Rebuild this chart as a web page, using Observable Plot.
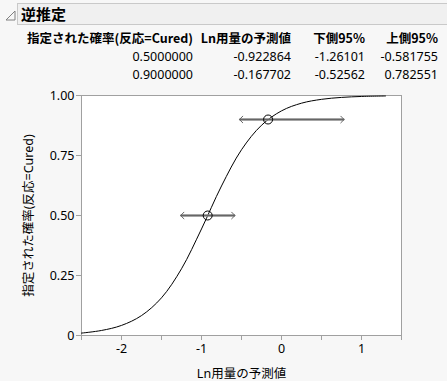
<!DOCTYPE html>
<html><head><meta charset="utf-8">
<script src="https://cdn.jsdelivr.net/npm/d3@7"></script>
<script src="https://cdn.jsdelivr.net/npm/@observablehq/plot@0.6"></script>
<style>
html,body{margin:0;padding:0;background:#f7f7f7;width:447px;height:381px;overflow:hidden;font-family:"Noto Sans","Noto Sans CJK JP",sans-serif;}
#hdr{position:absolute;left:17px;top:3px;width:440px;height:22px;background:#f0f0f0;border:1px solid #c9c9c9;box-sizing:border-box;}
#hdr span{position:absolute;left:3px;top:-1px;font-family:"Noto Sans CJK JP";font-weight:bold;font-size:15px;color:#000;}
#tri{position:absolute;left:5px;top:10px;}
#tbl{position:absolute;left:0;top:28px;border-collapse:collapse;font-size:12.5px;color:#000;}
#tbl td,#tbl th{padding:0;height:18.5px;text-align:right;white-space:nowrap;}
#tbl th{font-weight:bold;font-family:"Noto Sans CJK JP";}
#chart{position:absolute;left:0;top:80px;}
</style></head><body>
<svg id="tri" width="12" height="12"><path d="M1,10 L10,10 L10,1 Z" fill="none" stroke="#808080"/></svg>
<div id="hdr"><span>逆推定</span></div>
<table id="tbl"></table>
<div id="chart"></div>
<script>
// Table values
const colHeaders = ["指定された確率(反応=Cured)", "Ln用量の予測値", "下側95%", "上側95%"];
const probText = ["0.5000000", "0.9000000"];
const predText = ["-0.922864", "-0.167702"];
const lowText = ["-1.26101", "-0.52562"];
const upText = ["-0.581755", "0.782551"];

// Inverse prediction values
const prob = [0.5, 0.9];
const pred = [-0.922864, -0.167702];
const lower = [-1.26101, -0.52562];
const upper = [-0.581755, 0.782551];

// Fitted curve
const curveX = [-2.5, -2.25, -2.0, -1.75, -1.5, -1.25, -1.0, -0.75, -0.5, -0.25, 0.0, 0.25, 0.5, 0.75, 1.0, 1.3];
const curveP = [0.010, 0.021, 0.042, 0.083, 0.157, 0.278, 0.444, 0.623, 0.774, 0.876, 0.936, 0.968, 0.984, 0.992, 0.996, 0.998];

// Axes ticks
const xTicks = [-2.5, -2, -1.5, -1, -0.5, 0, 0.5, 1, 1.5];
const xLabels = [-2, -1, 0, 1];
const yTicks = [0, 0.25, 0.5, 0.75, 1];
const yLabels = ["0", "0.25", "0.50", "0.75", "1.00"];

// Build table
const widths = [193, 98, 74, 73];
const tbl = document.getElementById("tbl");
let html = "<tr>" + colHeaders.map((h, i) => `<th style="width:${widths[i]}px">${h}</th>`).join("") + "</tr>";
for (let r = 0; r < probText.length; r++) {
  html += "<tr>" + [probText[r], predText[r], lowText[r], upText[r]].map((v, i) => `<td style="width:${widths[i]}px">${v}</td>`).join("") + "</tr>";
}
tbl.innerHTML = html;

const curve = curveX.map((x, i) => ({x, p: curveP[i]}));
const inv = prob.map((p, i) => ({p, pred: pred[i], lo: lower[i], hi: upper[i]}));

const chart = Plot.plot({
  width: 447,
  height: 301,
  marginLeft: 81,
  marginRight: 46,
  marginTop: 15,
  marginBottom: 46,
  style: {fontFamily: "'Noto Sans','Noto Sans CJK JP',sans-serif", fontSize: "12.5px", background: "transparent", color: "#000", overflow: "visible"},
  x: {domain: [-2.5, 1.5]},
  y: {domain: [0, 1]},
  marks: [
    Plot.frame({fill: "white", stroke: "#a0a0a0"}),
    Plot.axisX({ticks: xTicks, tickSize: 5, tickFormat: () => "", stroke: "#a0a0a0", label: null}),
    Plot.axisX({ticks: xLabels, tickSize: 0, tickPadding: 9, tickFormat: d => String(d), fill: "#000", label: null}),
    Plot.axisY({ticks: yTicks, tickSize: 5, tickPadding: 2, tickFormat: d => yLabels[yTicks.indexOf(d)], stroke: "#a0a0a0", fill: "#000", label: null}),
    Plot.text(["Ln用量の予測値"], {frameAnchor: "bottom", dy: 42, fontSize: 12.5, fill: "#000"}),
    Plot.text(["指定された確率(反応=Cured)"], {frameAnchor: "left", textAnchor: "middle", dx: -53, rotate: -90, fontSize: 12.5, fill: "#000"}),
    Plot.line(curve, {x: "x", y: "p", stroke: "#000", strokeWidth: 1, curve: "catmull-rom"}),
    Plot.link(inv, {x1: "lo", x2: "hi", y1: "p", y2: "p", stroke: "#888888", strokeWidth: 2.5}),
    Plot.arrow(inv, {x1: "pred", x2: "lo", y1: "p", y2: "p", stroke: "#666666", strokeWidth: 1, headLength: 7, headAngle: 90}),
    Plot.arrow(inv, {x1: "pred", x2: "hi", y1: "p", y2: "p", stroke: "#666666", strokeWidth: 1, headLength: 7, headAngle: 90}),
    Plot.dot(inv, {x: "pred", y: "p", r: 4.5, stroke: "#000", fill: "none", strokeWidth: 1})
  ]
});
document.getElementById("chart").appendChild(chart);
</script>
</body></html>
